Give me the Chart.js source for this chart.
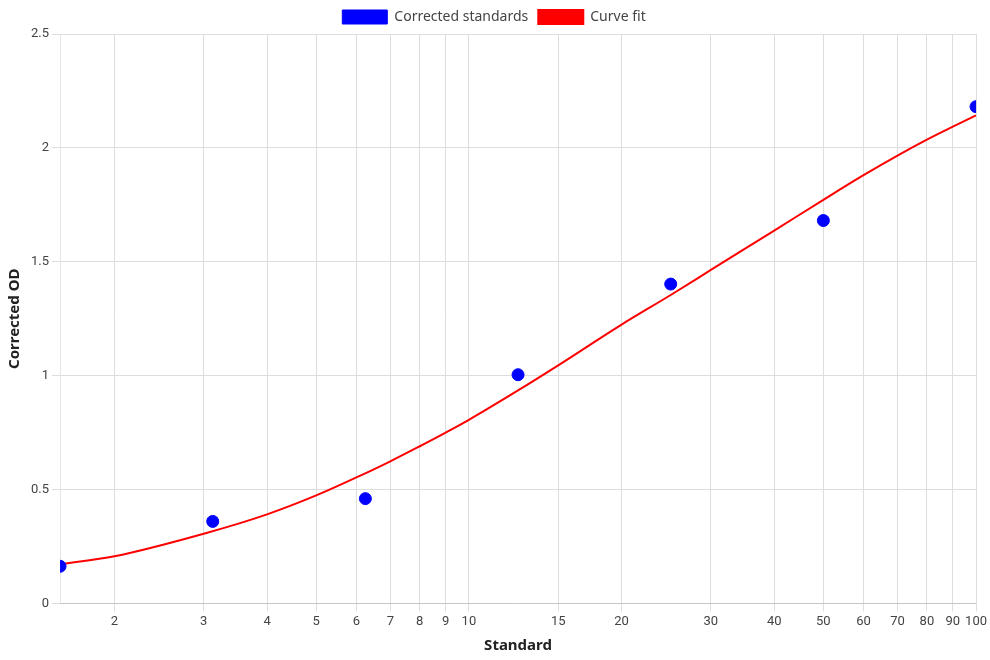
<!DOCTYPE html>
<html>
<head>
<meta charset="utf-8">
<script src="https://cdn.jsdelivr.net/npm/chart.js@4"></script>
<style>
  html, body { margin: 0; padding: 0; background: #fff; }
  #wrap { width: 990px; height: 660px; }
</style>
</head>
<body>
<div id="wrap"><canvas id="chart"></canvas></div>
<script>
const standardX = [1.5625, 3.125, 6.25, 12.5, 25, 50, 100];
const correctedOD = [0.163, 0.36, 0.46, 1.004, 1.402, 1.681, 2.181];

const fitX = [1.5625, 2, 3, 4, 5, 6, 7, 8, 9, 10, 12.5, 15, 20, 25, 30, 40, 50, 60, 70, 80, 90, 100];
const fitY = [0.172, 0.207, 0.306, 0.391, 0.474, 0.553, 0.624, 0.690, 0.750, 0.806, 0.935, 1.045, 1.224, 1.354, 1.464, 1.637, 1.772, 1.880, 1.966, 2.036, 2.093, 2.143];

const xTicks = [2, 3, 4, 5, 6, 7, 8, 9, 10, 15, 20, 30, 40, 50, 60, 70, 80, 90, 100];
const yTicks = [0, 0.5, 1, 1.5, 2, 2.5];

const titleFont = { family: "'Noto Sans', sans-serif", size: 15, weight: 'bold' };
const tickFont = { family: "Roboto, sans-serif", size: 13 };

new Chart(document.getElementById("chart"), {
    type: 'scatter',
    data: {
        datasets: [
            {
                label: 'Corrected standards',
                data: standardX.map((x, i) => ({ x: x, y: correctedOD[i] })),
                backgroundColor: '#0000ff',
                borderColor: '#0000ff',
                pointRadius: 6,
                pointHoverRadius: 6
            },
            {
                label: 'Curve fit',
                data: fitX.map((x, i) => ({ x: x, y: fitY[i] })),
                showLine: true,
                borderColor: '#ff0000',
                backgroundColor: '#ff0000',
                borderWidth: 2,
                pointRadius: 0,
                cubicInterpolationMode: 'monotone'
            }
        ]
    },
    options: {
        responsive: true,
        maintainAspectRatio: false,
        animation: false,
        layout: { padding: { left: 2, right: 4, top: 0, bottom: 1 } },
        plugins: {
            legend: {
                labels: {
                    boxWidth: 45,
                    boxHeight: 14,
                    color: '#444',
                    font: { family: "'Noto Sans', sans-serif", size: 14 }
                }
            },
            tooltip: { enabled: false }
        },
        scales: {
            x: {
                type: 'logarithmic',
                min: 1.5625,
                max: 100,
                afterBuildTicks: axis => { axis.ticks = xTicks.map(v => ({ value: v })); },
                ticks: {
                    autoSkip: false,
                    maxRotation: 0,
                    color: '#444',
                    font: tickFont,
                    callback: v => String(v)
                },
                grid: { color: '#dddddd' },
                title: { display: true, text: 'Standard', color: '#222', font: titleFont }
            },
            y: {
                min: 0,
                max: 2.5,
                afterBuildTicks: axis => { axis.ticks = yTicks.map(v => ({ value: v })); },
                ticks: { color: '#444', font: tickFont, callback: v => String(v) },
                grid: { color: '#dddddd' },
                title: { display: true, text: 'Corrected OD', color: '#222', font: titleFont }
            }
        }
    }
});
</script>
</body>
</html>
